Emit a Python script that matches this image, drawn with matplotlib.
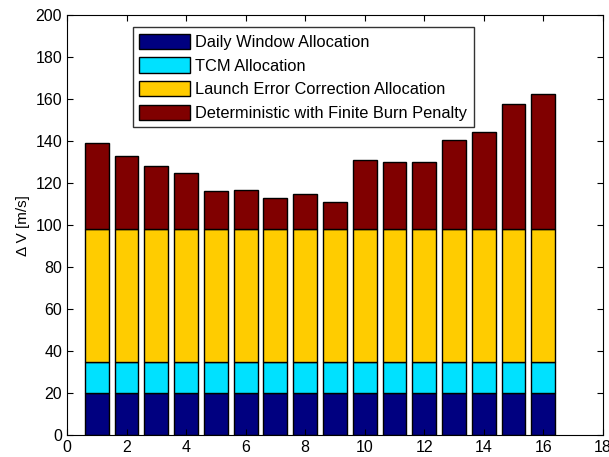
import matplotlib.pyplot as plt
import numpy as np

plt.rcParams['font.family'] = ['Liberation Sans', 'DejaVu Sans']

cases = np.arange(1, 17)
daily_window = [20] * 16
tcm = [15] * 16
launch_error = [63] * 16
totals = [139, 133, 128, 125, 116, 116.5, 113, 114.8, 111.2,
          131, 130, 130, 140.5, 144.4, 157.5, 162.5]
deterministic = [t - 98 for t in totals]

labels = ["Daily Window Allocation", "TCM Allocation",
          "Launch Error Correction Allocation",
          "Deterministic with Finite Burn Penalty"]
colors = ["#000080", "#00E1FF", "#FFCC00", "#800000"]

fig = plt.figure(figsize=(6.09, 4.57), dpi=100)
ax = fig.add_axes([0.110, 0.048, 0.880, 0.919])

bottom = np.zeros(16)
for vals, lab, col in zip([daily_window, tcm, launch_error, deterministic], labels, colors):
    ax.bar(cases, vals, width=0.8, bottom=bottom, color=col,
           edgecolor="black", linewidth=1, label=lab)
    bottom += np.array(vals)

ax.set_xlim(0, 18)
ax.set_ylim(0, 200)
ax.set_xticks(range(0, 19, 2))
ax.set_yticks(range(0, 201, 20))
ax.tick_params(direction="in", top=True, right=True, labelsize=11.5, length=4)
ax.set_ylabel("Δ V [m/s]", fontsize=11)

leg = ax.legend(loc="upper left", bbox_to_anchor=(0.123, 0.971), fontsize=11.8,
                frameon=True, fancybox=False, edgecolor="black",
                handlelength=3.1, handleheight=1.05, handletextpad=0.3,
                labelspacing=0.45, borderpad=0.4, borderaxespad=0)
leg.get_frame().set_linewidth(1)

fig.savefig("out.png", dpi=100)
